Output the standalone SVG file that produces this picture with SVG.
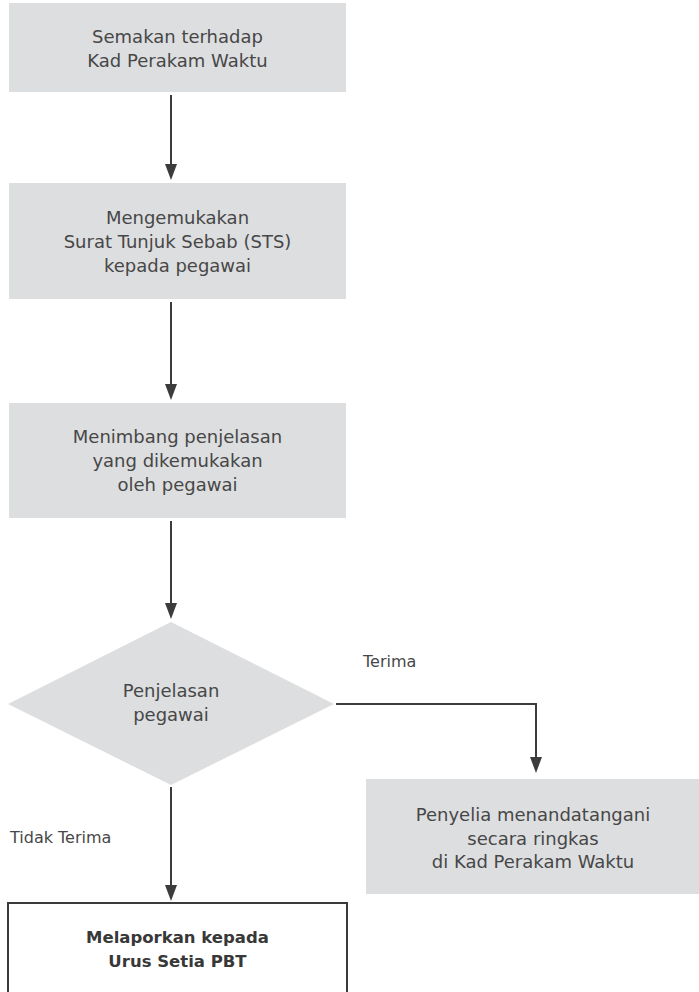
<svg xmlns="http://www.w3.org/2000/svg" width="699" height="992" viewBox="0 0 699 992">
  <style>
    .box { fill: #dddee0; }
    .end { fill: #ffffff; stroke: #3a3a3a; stroke-width: 2; }
    .t { font-family: "DejaVu Sans", sans-serif; font-size: 18px; fill: #474747; text-anchor: middle; }
    .lbl { font-family: "DejaVu Sans", sans-serif; font-size: 16px; fill: #474747; }
    .b { font-family: "DejaVu Sans", sans-serif; font-size: 16.5px; font-weight: bold; fill: #383838; text-anchor: middle; }
    .edge { fill: none; stroke: #3c3c3c; stroke-width: 2; }
    .head { fill: #3c3c3c; }
  </style>
  <defs>
    <!-- downward arrowhead, tip at (0,0) -->
    <path id="head" class="head" d="M-6,-16 L6,-16 L0,0 Z"/>
  </defs>
  <rect width="699" height="992" fill="#ffffff"/>

  <g id="semakan">
    <rect class="box" x="9" y="3" width="337" height="89"/>
    <text class="t" x="177.5" y="43">Semakan terhadap</text>
    <text class="t" x="177.5" y="67">Kad Perakam Waktu</text>
  </g>

  <g id="sts">
    <rect class="box" x="9" y="183" width="337" height="116"/>
    <text class="t" x="177.5" y="224">Mengemukakan</text>
    <text class="t" x="177.5" y="248">Surat Tunjuk Sebab (STS)</text>
    <text class="t" x="177.5" y="272">kepada pegawai</text>
  </g>

  <g id="menimbang">
    <rect class="box" x="9" y="403" width="337" height="115"/>
    <text class="t" x="177.5" y="443">Menimbang penjelasan</text>
    <text class="t" x="177.5" y="467">yang dikemukakan</text>
    <text class="t" x="177.5" y="491">oleh pegawai</text>
  </g>

  <g id="keputusan">
    <polygon class="box" points="171,622 334,704 171,785 8,704"/>
    <text class="t" x="171" y="697">Penjelasan</text>
    <text class="t" x="171" y="721">pegawai</text>
  </g>

  <g id="penyelia">
    <rect class="box" x="366" y="779" width="333" height="115"/>
    <text class="t" x="533" y="821">Penyelia menandatangani</text>
    <text class="t" x="533" y="845">secara ringkas</text>
    <text class="t" x="533" y="868">di Kad Perakam Waktu</text>
  </g>

  <g id="urus-setia">
    <rect class="end" x="8" y="903" width="339" height="100"/>
    <text class="b" x="177.5" y="943">Melaporkan kepada</text>
    <text class="b" x="177.5" y="967">Urus Setia PBT</text>
  </g>

  <g id="connectors">
    <line x1="171" y1="95" x2="171" y2="166" class="edge"/>
    <use href="#head" x="171" y="180"/>
    <line x1="171" y1="302" x2="171" y2="386" class="edge"/>
    <use href="#head" x="171" y="400"/>
    <line x1="171" y1="521" x2="171" y2="605" class="edge"/>
    <use href="#head" x="171" y="619"/>
    <polyline points="336,704 536,704 536,759" class="edge"/>
    <use href="#head" x="536" y="773"/>
    <line x1="171" y1="787" x2="171" y2="887" class="edge"/>
    <use href="#head" x="171" y="901"/>
    <text class="lbl" x="363" y="667">Terima</text>
    <text class="lbl" x="10" y="843">Tidak Terima</text>
  </g>
</svg>
